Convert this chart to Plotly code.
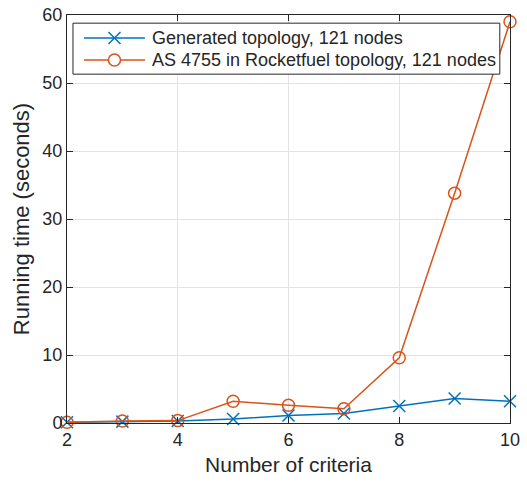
import plotly.graph_objects as go

criteria = [2, 3, 4, 5, 6, 7, 8, 9, 10]
generated = [0.1, 0.2, 0.3, 0.6, 1.1, 1.4, 2.5, 3.6, 3.2]
rocketfuel = [0.1, 0.3, 0.35, 3.2, 2.6, 2.1, 9.6, 33.8, 59.0]
series_names = ["Generated topology, 121 nodes", "AS 4755 in Rocketfuel topology, 121 nodes"]
x_ticks = [2, 4, 6, 8, 10]
y_ticks = [0, 10, 20, 30, 40, 50, 60]

FONT = "Liberation Sans, Arial, sans-serif"
BLUE = "#0072BD"
ORANGE = "#D95319"
DARK = "#262626"

fig = go.Figure()
fig.add_trace(go.Scatter(
    x=criteria, y=generated, mode="lines+markers", name=series_names[0],
    line=dict(color=BLUE, width=1.5),
    marker=dict(symbol="x-thin", size=12, line=dict(color=BLUE, width=1.5)),
    cliponaxis=False, showlegend=False,
))
fig.add_trace(go.Scatter(
    x=criteria, y=rocketfuel, mode="lines+markers", name=series_names[1],
    line=dict(color=ORANGE, width=1.5),
    marker=dict(symbol="circle-open", size=12, line=dict(color=ORANGE, width=1.5)),
    cliponaxis=False, showlegend=False,
))

axis_common = dict(
    showgrid=True, gridcolor="#e3e3e3", gridwidth=1,
    showline=True, linecolor=DARK, linewidth=1, mirror="ticks",
    ticks="inside", ticklen=6, tickcolor=DARK,
    tickfont=dict(size=18, color=DARK, family=FONT),
    zeroline=False, automargin=False,
)
fig.update_xaxes(range=[2, 10], tickvals=x_ticks,
                 title=dict(text="Number of criteria", font=dict(size=21, color=DARK, family=FONT), standoff=8),
                 **axis_common)
fig.update_yaxes(range=[0, 60], tickvals=y_ticks,
                 title=dict(text="Running time (seconds)", font=dict(size=22, color=DARK, family=FONT), standoff=6),
                 **axis_common)

# Custom legend (MATLAB-style) drawn in paper coordinates
shapes = [dict(type="rect", xref="paper", yref="paper", x0=0.0135, x1=0.977, y0=0.855, y1=0.980,
               line=dict(color=DARK, width=1), fillcolor="white", layer="above")]
annotations = []
rows = [0.9436, 0.8897]
lx0, lx1, lxm = 0.0384, 0.176, 0.1072
for i, (yy, col) in enumerate(zip(rows, [BLUE, ORANGE])):
    shapes.append(dict(type="line", xref="paper", yref="paper", x0=lx0, x1=lx1, y0=yy, y1=yy,
                       line=dict(color=col, width=1.5), layer="above"))
    if i == 0:
        for dy in (-6, 6):
            shapes.append(dict(type="line", xref="paper", yref="paper",
                               xsizemode="pixel", ysizemode="pixel", xanchor=lxm, yanchor=yy,
                               x0=-6, x1=6, y0=-dy, y1=dy,
                               line=dict(color=col, width=1.5), layer="above"))
    else:
        shapes.append(dict(type="circle", xref="paper", yref="paper",
                           xsizemode="pixel", ysizemode="pixel", xanchor=lxm, yanchor=yy,
                           x0=-6, x1=6, y0=-6, y1=6, fillcolor="white",
                           line=dict(color=col, width=1.5), layer="above"))
    annotations.append(dict(xref="paper", yref="paper", x=0.1874, y=yy, xanchor="left", yanchor="middle",
                            text=series_names[i], showarrow=False,
                            font=dict(size=18, color=DARK, family=FONT)))

fig.update_layout(
    width=527, height=483,
    margin=dict(l=67, r=17, t=15, b=60),
    paper_bgcolor="white", plot_bgcolor="white",
    font=dict(family=FONT, color=DARK),
    showlegend=False,
    shapes=shapes, annotations=annotations,
)

fig.write_html("out.html")
